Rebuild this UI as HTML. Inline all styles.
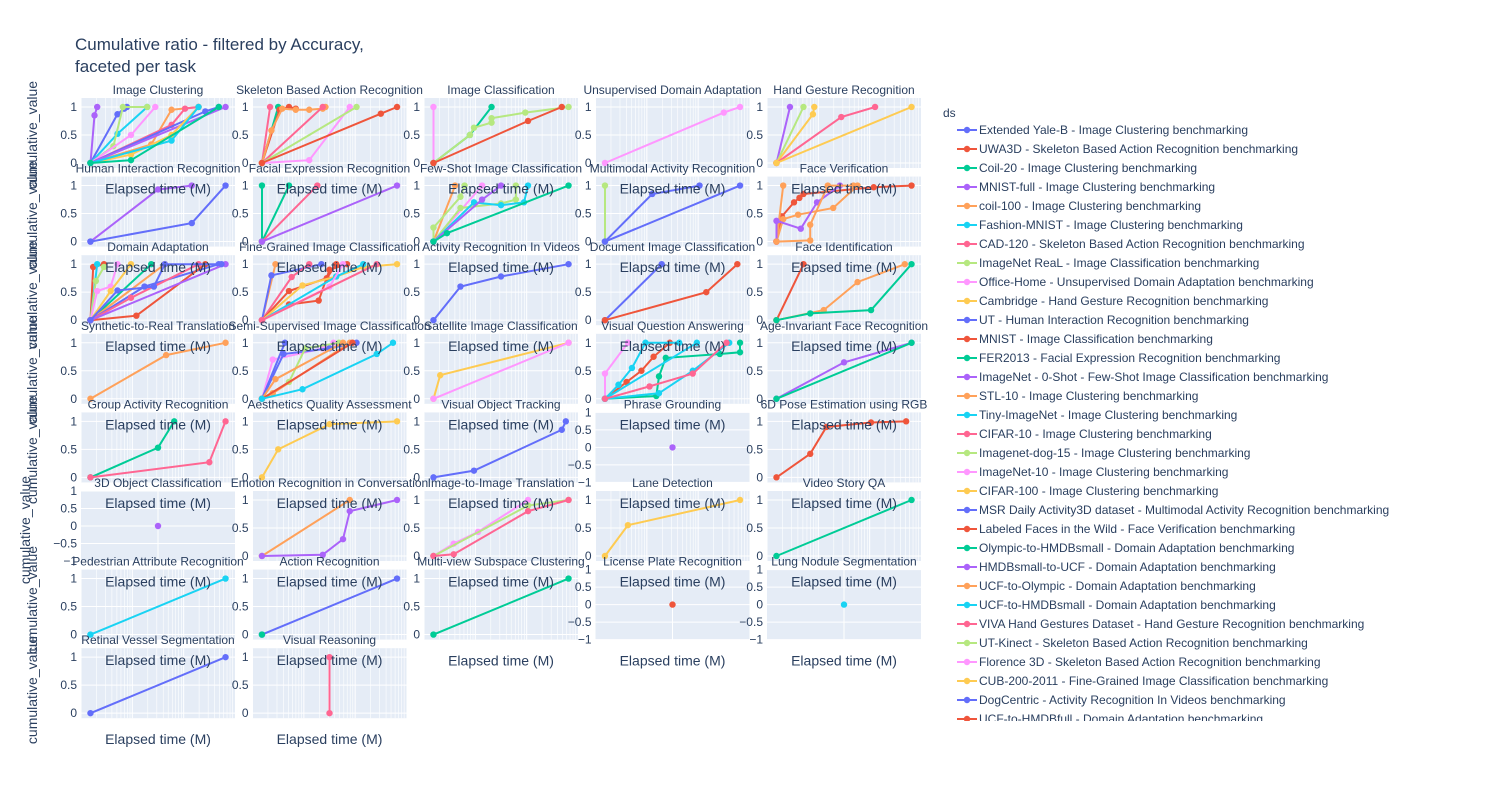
<!DOCTYPE html>
<html><head><meta charset="utf-8"><style>
body{margin:0;background:#fff;}
svg{display:block;font-family:"Liberation Sans",Arial,sans-serif;}
</style></head><body>
<svg id="chart" width="1500" height="800" viewBox="0 0 1500 800" xmlns="http://www.w3.org/2000/svg">
<text x="75" y="50" font-size="17" fill="#2a3f5f">Cumulative ratio - filtered by Accuracy,</text>
<text x="75" y="72" font-size="17" fill="#2a3f5f">faceted per task</text>
<g id="panels"></g>
<g id="xtitles"></g>
<g id="ytitles"></g>
<g id="legend"></g>
</svg>
<script>
const COLORS=["#636EFA","#EF553B","#00CC96","#AB63FA","#FFA15A","#19D3F3","#FF6692","#B6E880","#FF97FF","#FECB52"];
const panelTitles=["Image Clustering","Skeleton Based Action Recognition","Image Classification","Unsupervised Domain Adaptation","Hand Gesture Recognition",
"Human Interaction Recognition","Facial Expression Recognition","Few-Shot Image Classification","Multimodal Activity Recognition","Face Verification",
"Domain Adaptation","Fine-Grained Image Classification","Activity Recognition In Videos","Document Image Classification","Face Identification",
"Synthetic-to-Real Translation","Semi-Supervised Image Classification","Satellite Image Classification","Visual Question Answering","Age-Invariant Face Recognition",
"Group Activity Recognition","Aesthetics Quality Assessment","Visual Object Tracking","Phrase Grounding","6D Pose Estimation using RGB",
"3D Object Classification","Emotion Recognition in Conversation","Image-to-Image Translation","Lane Detection","Video Story QA",
"Pedestrian Attribute Recognition","Action Recognition","Multi-view Subspace Clustering","License Plate Recognition","Lung Nodule Segmentation",
"Retinal Vessel Segmentation","Visual Reasoning"];
const singlePanels=[23,25,33,34];
const panelSeries=[
[[3,[0,0.03,0.05],[0,0.85,1]],[0,[0,0.2,0.25,0.27],[0,0.87,0.97,1]],[5,[0,0.2,0.42],[0,0.52,1]],[7,[0,0.17,0.24,0.42],[0,0.3,1,1]],[8,[0,0.3,0.48],[0,0.5,1]],[4,[0,0.45,0.6,0.8],[0,0.33,0.95,1]],[6,[0,0.6,0.7,0.8],[0,0.68,0.97,1]],[0,[0,0.85,0.95],[0,0.92,1]],[3,[0,1],[0,1]],[9,[0,0.3,0.6,0.8],[0,0.15,0.5,1]],[5,[0,0.6,0.8],[0,0.4,1]],[2,[0,0.3,0.95],[0,0.05,1]]],
[[6,[0,0.06],[0,1]],[2,[0,0.12],[0,1]],[1,[0,0.13,0.2,0.25],[0,0.95,1,0.97]],[4,[0,0.07,0.15,0.25,0.35,0.45,0.47],[0,0.58,0.97,0.95,0.95,0.97,1]],[6,[0,0.45],[0,1]],[8,[0,0.35,0.65],[0,0.05,1]],[7,[0,0.7],[0,1]],[1,[0,0.88,1],[0,0.88,1]]],
[[8,[0,0],[0,1]],[2,[0,0.27,0.43],[0,0.5,1]],[7,[0,0.27,0.3,0.43,0.43,0.68,1],[0,0.5,0.63,0.72,0.8,0.9,1]],[1,[0,0.7,0.95],[0,0.75,1]]],
[[8,[0,0.88,1],[0,0.9,1]]],
[[3,[0,0.1],[0,1]],[7,[0,0.2],[0,1]],[9,[0,0.27,0.28],[0,0.87,1]],[6,[0,0.48,0.73],[0,0.82,1]],[9,[0,1],[0,1]]],
[[3,[0,0.5,0.75],[0,0.93,1]],[0,[0,0.75,1],[0,0.33,1]]],
[[2,[0,0],[0,1]],[2,[0,0.2],[0,1]],[6,[0,0.41],[0,1]],[3,[0,1],[0,1]]],
[[4,[0,0.16],[0,1]],[7,[0,0,0.2,0.23],[0,0.25,0.8,1]],[8,[0,0.36],[0,1]],[7,[0,0.2,0.5,0.61,0.61],[0,0.6,0.68,0.75,1]],[5,[0,0.3,0.5,0.67,0.7],[0,0.7,0.65,0.7,1]],[3,[0,0.36,0.5],[0,0.75,1]],[2,[0,0.1,1],[0,0.15,1]]],
[[7,[0,0],[0,1]],[0,[0,0.35,0.7],[0,0.85,1]],[0,[0,1],[0,1]]],
[[1,[0,0.04,0.13,0.17,0.2,0.72,1],[0,0.45,0.7,0.78,0.85,0.97,1]],[4,[0,0.05,0.16,0.42,0.6],[0,0.4,0.48,0.6,1]],[4,[0,0.05],[0,1]],[3,[0,0,0.18,0.3,0.47],[0,0.37,0.23,0.7,1]],[4,[0,0.25,0.25,0.38,0.57],[0,0.02,0.3,1,1]]],
[[1,[0,0.02,0.1],[0,0.95,1]],[5,[0,0.05],[0,1]],[7,[0,0.04,0.1],[0,0.7,0.95]],[8,[0,0.05,0.15,0.2],[0,0.52,0.6,1]],[9,[0,0.15,0.3],[0,0.52,1]],[2,[0,0.45],[0,1]],[4,[0,0.55],[0,1]],[0,[0,0.4,0.95],[0,0.6,1]],[6,[0,0.3,0.8],[0,0.4,1]],[1,[0,0.34,0.85],[0,0.08,1]],[3,[0,1],[0,1]],[0,[0,0.2,0.47,0.55,0.97],[0,0.53,0.6,1,1]]],
[[4,[0,0.1],[0,1]],[0,[0,0.07,0.44],[0,0.8,1]],[6,[0,0.22,0.35],[0,0.77,1]],[1,[0,0.2,0.48,0.55],[0,0.52,0.75,1]],[1,[0,0.2,0.42,0.5,0.63],[0,0.28,0.35,0.9,1]],[9,[0,0.3,0.55,0.75,1],[0,0.62,0.78,0.95,1]],[5,[0,0.55,0.75],[0,0.78,1]],[8,[0,0.5,0.6],[0,0.6,1]],[6,[0,0.85],[0,1]]],
[[0,[0,0.2,0.5,1],[0,0.6,0.78,1]]],
[[0,[0,0.42],[0,1]],[1,[0,0.75,0.98],[0,0.5,1]]],
[[1,[0,0.2],[0,1]],[4,[0,0.35,0.6,0.95],[0,0.18,0.68,1]],[2,[0,0.25,0.7,1],[0,0.12,0.18,1]]],
[[4,[0,0.56,1],[0,0.78,1]]],
[[8,[0,0.08,0.45,0.53],[0,0.7,0.9,1]],[0,[0,0.17],[0,1]],[0,[0,0.16,0.5,0.7],[0,0.8,0.9,1]],[7,[0,0.2,0.32,0.57],[0,0.3,0.9,1]],[4,[0,0.1,0.6],[0,0.35,1]],[4,[0,0.08,0.65],[0,0.1,1]],[1,[0,0.67],[0,1]],[5,[0,0.3,0.85,0.97],[0,0.17,0.8,1]]],
[[9,[0,0.05,1],[0,0.42,1]],[8,[0,1],[0,1]]],
[[8,[0,0,0.17],[0,0.45,1]],[1,[0,0.16,0.27,0.36,0.48],[0,0.3,0.5,0.75,1]],[5,[0,0.1,0.2,0.3,0.55],[0,0.25,0.55,1,1]],[2,[0,0.38,0.4,0.45,0.85,1,1],[0,0.05,0.4,0.73,0.8,0.83,1]],[5,[0,0.68],[0,1]],[5,[0,0.4,0.65,0.92],[0,0.1,0.5,1]],[6,[0,0.33,0.65,0.9],[0,0.22,0.45,1]]],
[[3,[0,0.5,1],[0,0.65,1]],[2,[0,1],[0,1]]],
[[2,[0,0.5,0.62],[0,0.53,1]],[6,[0,0.88,1],[0,0.27,1]]],
[[9,[0,0.12,0.5,1],[0,0.5,0.95,1]]],
[[0,[0,0.3,0.95,0.98],[0,0.12,0.85,1]]],
[[3,[0.5],[0]]],
[[1,[0,0.25,0.37,0.7,0.96],[0,0.42,0.9,0.98,1]]],
[[3,[0.5],[0]]],
[[4,[0,0.65],[0,1]],[3,[0,0.45,0.6,0.65,1],[0,0.02,0.3,0.8,1]]],
[[8,[0,0.15,0.33,0.7],[0,0.22,0.43,1]],[7,[0,0.7,1],[0,0.9,1]],[6,[0,0.15,0.7,1],[0,0.03,0.8,1]]],
[[9,[0,0.17,1],[0,0.55,1]]],
[[2,[0,1],[0,1]]],
[[5,[0,1],[0,1]]],
[[0,[0,1],[0,1]],[2,[0],[0]]],
[[2,[0,1],[0,1]]],
[[1,[0.5],[0]]],
[[5,[0.5],[0]]],
[[0,[0,1],[0,1]]],
[[6,[0.5,0.5],[0,1]]]
];
const yTicksNormal=[0,0.5,1];
const yTicksSingle=[-1,-0.5,0,0.5,1];
const legendLabels=["Extended Yale-B - Image Clustering benchmarking","UWA3D - Skeleton Based Action Recognition benchmarking","Coil-20 - Image Clustering benchmarking","MNIST-full - Image Clustering benchmarking","coil-100 - Image Clustering benchmarking","Fashion-MNIST - Image Clustering benchmarking","CAD-120 - Skeleton Based Action Recognition benchmarking","ImageNet ReaL - Image Classification benchmarking","Office-Home - Unsupervised Domain Adaptation benchmarking","Cambridge - Hand Gesture Recognition benchmarking","UT - Human Interaction Recognition benchmarking","MNIST - Image Classification benchmarking","FER2013 - Facial Expression Recognition benchmarking","ImageNet - 0-Shot - Few-Shot Image Classification benchmarking","STL-10 - Image Clustering benchmarking","Tiny-ImageNet - Image Clustering benchmarking","CIFAR-10 - Image Clustering benchmarking","Imagenet-dog-15 - Image Clustering benchmarking","ImageNet-10 - Image Clustering benchmarking","CIFAR-100 - Image Clustering benchmarking","MSR Daily Activity3D dataset - Multimodal Activity Recognition benchmarking","Labeled Faces in the Wild - Face Verification benchmarking","Olympic-to-HMDBsmall - Domain Adaptation benchmarking","HMDBsmall-to-UCF - Domain Adaptation benchmarking","UCF-to-Olympic - Domain Adaptation benchmarking","UCF-to-HMDBsmall - Domain Adaptation benchmarking","VIVA Hand Gestures Dataset - Hand Gesture Recognition benchmarking","UT-Kinect - Skeleton Based Action Recognition benchmarking","Florence 3D - Skeleton Based Action Recognition benchmarking","CUB-200-2011 - Fine-Grained Image Classification benchmarking","DogCentric - Activity Recognition In Videos benchmarking","UCF-to-HMDBfull - Domain Adaptation benchmarking"];

const NS="http://www.w3.org/2000/svg";
function mk(tag,attrs,parent){const e=document.createElementNS(NS,tag);for(const k in attrs)e.setAttribute(k,attrs[k]);parent.appendChild(e);return e;}
const panelsG=document.getElementById('panels');
const xtG=document.getElementById('xtitles');
const PW=154,PH=70;
function px0(c){return 81+c*171.5;}
function py0(r){return 98+r*78.6;}
function xTitle(x,y){
  const xt=mk('text',{x:x,y:y,'text-anchor':'middle','font-size':14,fill:'#2a3f5f'},xtG);
  xt.textContent='Elapsed time (M)';
  
  
}
panelTitles.forEach((title,i)=>{
  const r=Math.floor(i/5),c=i%5,x0=px0(c),y0=py0(r);
  const single=singlePanels.includes(i);
  const yr=single?[-1,1]:[-0.09,1.16];
  const xs=v=>x0+(v+0.07)/1.14*PW;
  const ys=v=>y0+PH-(v-yr[0])/(yr[1]-yr[0])*PH;
  const g=mk('g',{},panelsG);
  
  
  mk('rect',{x:x0,y:y0,width:PW,height:PH,fill:'#E5ECF6'},g);
  if(!single){
    for(let d=0;d<3;d++)for(let k=1;k<10;k++){
      const f=(d+Math.log10(k))/3;const x=x0+f*PW;
      mk('line',{x1:x,x2:x,y1:y0,y2:y0+PH,stroke:'#fff','stroke-width':k===1?1:0.6},g);
    }
  } else {
    mk('line',{x1:xs(0.5),x2:xs(0.5),y1:y0,y2:y0+PH,stroke:'#fff','stroke-width':1},g);
  }
  const ticks=single?yTicksSingle:yTicksNormal;
  ticks.forEach(t=>{
    mk('line',{x1:x0,x2:x0+PW,y1:ys(t),y2:ys(t),stroke:'#fff','stroke-width':1},g);
    const tx=mk('text',{x:x0-4,y:ys(t)+4,'text-anchor':'end','font-size':12,fill:'#2a3f5f'},g);
    tx.textContent=(t<0?'\u2212'+(-t):t);
    
    
  });
  panelSeries[i].forEach(s=>{
    const col=COLORS[s[0]];
    const pts=s[1].map((v,j)=>xs(v).toFixed(1)+','+ys(s[2][j]).toFixed(1)).join(' ');
    if(s[1].length>1){
      const pl=mk('polyline',{points:pts,fill:'none',stroke:col,'stroke-width':2},g);
      
      
    }
    s[1].forEach((v,j)=>{
      const cc=mk('circle',{cx:xs(v),cy:ys(s[2][j]),r:3.2,fill:col},g);
      
      
    });
  });
  const tt=mk('text',{x:x0+PW/2,y:y0-4,'text-anchor':'middle','font-size':12,fill:'#2a3f5f'},g);
  tt.textContent=title;
  
  
  // x-axis titles: plotly places them right below each panel, overlapping the next row
  if(r===7 || (r===6 && c>=2)) xTitle(x0+PW/2, y0+PH+26);
  else xTitle(x0+PW/2, py0(r+1)+17);
});
const yt=document.getElementById('ytitles');
[[37,135],[37,215],[37,295],[37,370],[37,450],[30,530],[37,600],[37,690]].forEach(p=>{
  const t=mk('text',{x:p[0],y:p[1],'text-anchor':'middle','font-size':14,fill:'#2a3f5f',transform:`rotate(-90 ${p[0]} ${p[1]})`},yt);
  t.textContent='cumulative_value';
  
  
});
const lg=document.getElementById('legend');
const lt=mk('text',{x:943,y:117,'font-size':12,fill:'#2a3f5f'},lg);
lt.textContent='ds';


const clip=mk('clipPath',{id:'lgclip'},lg);
mk('rect',{x:930,y:100,width:560,height:621},clip);
const lgi=mk('g',{'clip-path':'url(#lgclip)'},lg);
legendLabels.forEach((lab,i)=>{
  const y=130+i*19,col=COLORS[i%10];
  const e=mk('g',{},lgi);
  
  
  mk('line',{x1:957,x2:977,y1:y,y2:y,stroke:col,'stroke-width':2},e);
  mk('circle',{cx:967,cy:y,r:3.2,fill:col},e);
  const t=mk('text',{x:979,y:y+4,'font-size':12,fill:'#2a3f5f'},e);
  t.textContent=lab;
});
</script>
</body></html>
